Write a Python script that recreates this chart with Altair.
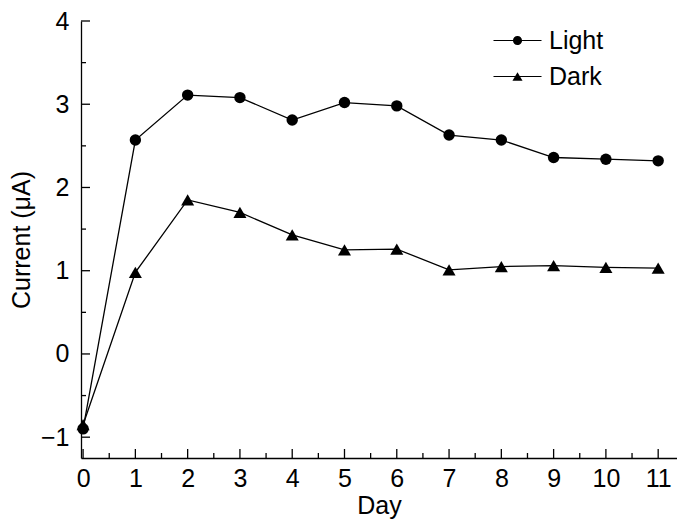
import altair as alt
import pandas as pd

# ---- data ----
days = [0, 1, 2, 3, 4, 5, 6, 7, 8, 9, 10, 11]
light = [-0.90, 2.57, 3.11, 3.08, 2.81, 3.02, 2.98, 2.63, 2.57, 2.36, 2.34, 2.32]
dark = [-0.85, 0.98, 1.85, 1.70, 1.43, 1.25, 1.26, 1.01, 1.05, 1.06, 1.04, 1.03]
series_names = ["Light", "Dark"]

y_major = [-1, 0, 1, 2, 3, 4]
y_minor = [-0.5, 0.5, 1.5, 2.5, 3.5]
x_major = [0, 1, 2, 3, 4, 5, 6, 7, 8, 9, 10, 11]
x_minor = [0.5, 1.5, 2.5, 3.5, 4.5, 5.5, 6.5, 7.5, 8.5, 9.5, 10.5]

# ---- layout / style ----
PLOT_W = 596
PLOT_H = 437
FONT = "Liberation Sans"
FS = 25
X_DOMAIN = [-0.04, 11.36]
Y_DOMAIN = [-1.25, 4]

df = pd.DataFrame(
    {
        "Day": days * 2,
        "Current": light + dark,
        "Series": ["Light"] * len(days) + ["Dark"] * len(days),
    }
)

x_axis = alt.Axis(
    values=x_major, ticks=False, grid=False, domainColor="black", domainWidth=1.3,
    labelFont=FONT, labelFontSize=FS, labelColor="black", labelPadding=8,
    titleFont=FONT, titleFontSize=FS, titleFontWeight="normal", titleColor="black",
    titlePadding=2, format="d", labelFlush=False,
)
y_axis = alt.Axis(
    values=y_major, ticks=False, grid=False, domainColor="black", domainWidth=1.3,
    labelFont=FONT, labelFontSize=FS, labelColor="black", labelPadding=12,
    titleFont=FONT, titleFontSize=FS, titleFontWeight="normal", titleColor="black",
    titlePadding=6, format="d", labelFlush=False,
)


def X(field):
    return alt.X(f"{field}:Q", title="Day", scale=alt.Scale(domain=X_DOMAIN, nice=False, zero=False), axis=x_axis)


def Y(field):
    return alt.Y(f"{field}:Q", title="Current (μA)", scale=alt.Scale(domain=Y_DOMAIN, nice=False, zero=False), axis=y_axis)


base = alt.Chart(df)

lines = base.mark_line(color="black", strokeWidth=1.3).encode(
    x=X("Day"), y=Y("Current"), detail="Series:N"
)

pts_light = base.transform_filter(alt.datum.Series == "Light").mark_point(
    shape="circle", filled=True, color="black", size=130, opacity=1
).encode(x=X("Day"), y=Y("Current"))

pts_dark = base.transform_filter(alt.datum.Series == "Dark").mark_point(
    shape="triangle-up", filled=True, color="black", size=170, opacity=1
).encode(x=X("Day"), y=Y("Current"))

# legend symbols: line segment with the marker on it
path_light = (
    "M-2,-0.05H2V0.05H-2Z "
    "M0.38,0A0.38,0.38,0,1,1,-0.38,0A0.38,0.38,0,1,1,0.38,0Z"
)
path_dark = "M-2,-0.05H2V0.05H-2Z M0,-0.36L0.42,0.36L-0.42,0.36Z"

legend_layer = base.transform_filter(alt.datum.Day < -100).mark_point(
    filled=True, color="black", opacity=1
).encode(
    x=X("Day"),
    y=Y("Current"),
    shape=alt.Shape(
        "Series:N",
        scale=alt.Scale(domain=series_names, range=[path_light, path_dark]),
        legend=alt.Legend(
            title=None, orient="none", legendX=424, legendY=7,
            symbolSize=576, symbolFillColor="black", symbolStrokeWidth=0,
            symbolOpacity=1,
            labelFont=FONT, labelFontSize=FS, labelColor="black",
            labelOffset=19, rowPadding=10, padding=0,
        ),
    ),
)

# inward tick marks
ymaj = alt.Chart(pd.DataFrame({"Current": y_major})).mark_rule(color="black", strokeWidth=1.3).encode(
    y=Y("Current"), x=alt.value(0), x2=alt.value(9)
)
ymin = alt.Chart(pd.DataFrame({"Current": y_minor})).mark_rule(color="black", strokeWidth=1.3).encode(
    y=Y("Current"), x=alt.value(0), x2=alt.value(5)
)
xmaj = alt.Chart(pd.DataFrame({"Day": x_major})).mark_rule(color="black", strokeWidth=1.3).encode(
    x=X("Day"), y=alt.value(PLOT_H), y2=alt.value(PLOT_H - 9)
)
xmin = alt.Chart(pd.DataFrame({"Day": x_minor})).mark_rule(color="black", strokeWidth=1.3).encode(
    x=X("Day"), y=alt.value(PLOT_H), y2=alt.value(PLOT_H - 5)
)

chart = (
    alt.layer(ymaj, ymin, xmaj, xmin, lines, pts_light, pts_dark, legend_layer)
    .properties(
        width=PLOT_W,
        height=PLOT_H,
        autosize=alt.AutoSizeParams(type="none"),
        padding={"left": 73, "top": 13, "right": 0, "bottom": 64},
        background="white",
    )
    .configure_view(stroke=None)
)

chart.save("out.html", embed_options={"renderer": "svg", "actions": False})
